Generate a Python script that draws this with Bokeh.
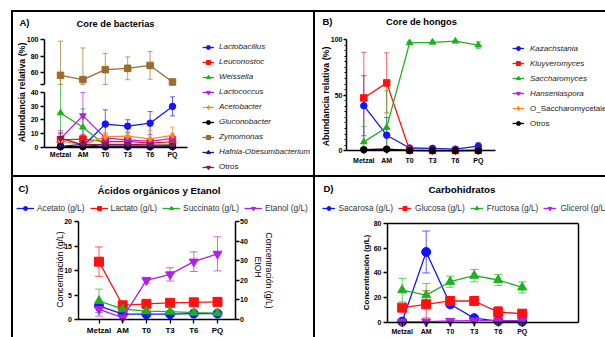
import numpy as np
from bokeh.plotting import figure
from bokeh.models import (ColumnDataSource, Range1d, LinearAxis, FixedTicker, Label, Legend,
                          LegendItem, Whisker, TeeHead, CustomJSTransform, Spacer)
from bokeh.layouts import row, column
from bokeh.transform import transform
from bokeh.embed import file_html
from bokeh.resources import INLINE

# ---------------- data ----------------
categories = ["Metzal", "AM", "T0", "T3", "T6", "PQ"]

# A) Core de bacterias (abundancia relativa %)
lactobacillus = [0.3, 0.5, 16.8, 15.3, 17.5, 29.8]
lactobacillus_sd = [0.5, 0.5, 10.5, 4.7, 8.5, 7.0]
leuconostoc = [5.2, 5.8, 3.9, 4.2, 2.9, 3.9]
leuconostoc_sd = [4.5, 3.5, 2.0, 2.0, 1.5, 2.0]
weissella = [25.0, 14.5, 1.2, 1.2, 0.8, 2.0]
weissella_sd = [33.0, 13.5, 1.0, 1.0, 0.8, 1.5]
lactococcus = [6.0, 23.0, 6.5, 5.3, 4.2, 6.3]
lactococcus_sd = [6.0, 17.0, 3.0, 2.0, 2.0, 2.5]
acetobacter = [4.5, 1.5, 7.6, 8.0, 6.0, 8.6]
acetobacter_sd = [5.0, 1.0, 3.0, 3.0, 6.0, 6.0]
gluconobacter = [0.2, 0.3, 0.2, 0.2, 0.2, 0.3]
gluconobacter_sd = [0.3, 0.3, 0.3, 0.3, 0.3, 0.3]
zymomonas = [56.3, 51.0, 63.3, 64.9, 68.5, 48.1]
zymomonas_sd = [42.0, 39.0, 20.0, 14.0, 17.0, 2.0]
hafnia = [0.5, 2.0, 0.3, 0.3, 0.3, 0.3]
hafnia_sd = [0.5, 1.5, 0.3, 0.3, 0.3, 0.3]
otros_bact = [6.5, 1.5, 2.0, 2.0, 1.5, 1.0]
otros_bact_sd = [4.0, 1.0, 1.0, 1.0, 1.0, 0.5]

# B) Core de hongos (abundancia relativa %)
kazachstania = [40.5, 14.0, 2.5, 2.2, 1.5, 4.2]
kazachstania_sd = [27.0, 16.0, 1.0, 1.0, 1.0, 3.0]
kluyveromyces = [47.5, 61.0, 0.5, 0.2, 0.2, 0.3]
kluyveromyces_sd = [41.0, 27.0, 0.5, 0.2, 0.2, 0.3]
saccharomyces = [8.0, 21.0, 97.0, 97.5, 98.5, 95.0]
saccharomyces_sd = [14.0, 33.0, 1.0, 1.0, 0.5, 3.0]
hanseniaspora = [1.0, 1.5, 0.2, 0.1, 0.1, 0.1]
hanseniaspora_sd = [1.0, 1.0, 0.2, 0.1, 0.1, 0.1]
o_saccharomycetales = [0.5, 1.0, 0.1, 0.1, 0.1, 0.1]
o_saccharomycetales_sd = [0.5, 0.8, 0.1, 0.1, 0.1, 0.1]
otros_hongos = [1.0, 1.5, 0.3, 0.2, 0.2, 0.3]
otros_hongos_sd = [1.0, 1.0, 0.2, 0.2, 0.2, 0.2]

# C) Acidos organicos y etanol (g/L)
acetato = [2.8, 1.1, 1.1, 1.1, 1.2, 1.2]
acetato_sd = [0.5, 0.3, 0.2, 0.2, 0.2, 0.2]
lactato = [11.8, 2.9, 3.2, 3.4, 3.5, 3.6]
lactato_sd = [3.0, 0.5, 0.4, 0.4, 0.3, 0.4]
succinato = [3.8, 2.1, 1.7, 1.6, 1.4, 1.3]
succinato_sd = [2.4, 0.3, 0.2, 0.2, 0.2, 0.2]
etanol = [5.2, 1.0, 20.0, 23.0, 29.5, 33.5]
etanol_sd = [3.5, 1.0, 1.5, 3.4, 5.0, 8.7]

# D) Carbohidratos (g/L)
sacarosa = [0.5, 56.9, 14.5, 3.3, 0.9, 0.5]
sacarosa_sd = [0.3, 17.0, 2.0, 1.0, 0.5, 0.3]
glucosa = [11.8, 14.5, 17.2, 17.2, 8.2, 6.9]
glucosa_sd = [1.5, 11.0, 3.0, 3.5, 4.5, 2.0]
fructosa = [26.0, 21.9, 32.8, 37.7, 34.2, 28.2]
fructosa_sd = [9.5, 9.5, 4.5, 5.0, 4.5, 4.5]
glicerol = [0.3, 0.4, 1.0, 1.3, 1.3, 1.3]
glicerol_sd = [0.2, 0.3, 0.5, 0.5, 0.5, 0.5]

# broken y axis of panel A: data value -> display position
break_data = [0, 40, 45, 100]
break_disp = [0, 54.5, 62.5, 107.2]

# ---------------- styles ----------------
FONT = "Liberation Sans"
BLUE, RED, GREEN, PURPLE = "#1414ff", "#ff1010", "#1fb01f", "#b41eea"
ORANGE, BLACK, BROWN, NAVY, MAROON = "#ff8c1a", "#000000", "#9c6b2e", "#1c1c7c", "#7a1f5c"
idx = list(range(len(categories)))
cat_labels = {i: c for i, c in enumerate(categories)}


class Panel:
    """Figure whose frame fills the whole canvas; geometry given in page pixels."""

    def __init__(self, ox, oy, w, h, x0, dx, y0, ky):
        self.ox, self.oy, self.w, self.h = ox, oy, w, h
        xr = ((ox - x0) / dx, (ox + w - x0) / dx)
        yr = ((y0 - (oy + h)) / ky, (y0 - oy) / ky)
        self.x0, self.dx, self.y0, self.ky = x0, dx, y0, ky
        p = figure(width=w, height=h, x_range=Range1d(*xr), y_range=Range1d(*yr),
                   x_axis_type=None, y_axis_type=None, toolbar_location=None,
                   output_backend="svg", min_border=0)
        p.min_border_left = p.min_border_right = p.min_border_top = p.min_border_bottom = 0
        p.outline_line_color = None
        p.background_fill_color = "white"
        p.border_fill_color = "white"
        self.p = p

    def xd(self, sx):
        return (sx - self.x0) / self.dx

    def text(self, sx, sy, text, size, style="normal", angle=0.0, color="black"):
        self.p.add_layout(Label(x=sx - self.ox, y=self.oy + self.h - sy, x_units="screen",
                                y_units="screen", text=text, text_font=FONT,
                                text_font_size=f"{size}px", text_font_style=style,
                                text_align="center", text_baseline="middle", angle=angle,
                                text_color=color))

    def legend(self, items, glyph_left, bottom, fs, gw, standoff, style="normal",
               orientation="vertical", spacing=5, color="#1a1a1a"):
        self.p.add_layout(Legend(
            items=items, location=(glyph_left - self.ox, self.oy + self.h - bottom),
            orientation=orientation, glyph_width=gw, glyph_height=10, label_height=10,
            label_width=10, spacing=spacing, label_standoff=standoff, padding=0, margin=0,
            border_line_color=None, background_fill_alpha=0, label_text_font=FONT,
            label_text_font_size=f"{fs}px", label_text_font_style=style,
            label_text_color=color))


def make_axis(ticks, fs, tick_out, standoff, overrides=None, bounds=None, fixed=None,
              minor=None, y_range_name=None, labels=True):
    kw = {}
    if y_range_name:
        kw["y_range_name"] = y_range_name
    ax = LinearAxis(ticker=FixedTicker(ticks=ticks, minor_ticks=minor or []), **kw)
    ax.axis_line_color = "black"
    ax.axis_line_width = 1.5
    ax.major_tick_line_color = "black"
    ax.major_tick_line_width = 1.3
    ax.major_tick_in = 0
    ax.major_tick_out = tick_out
    ax.minor_tick_line_color = "black"
    ax.minor_tick_line_width = 1.0
    ax.minor_tick_in = 0
    ax.minor_tick_out = 2
    ax.major_label_text_font = FONT
    ax.major_label_text_font_size = f"{fs}px"
    ax.major_label_text_font_style = "bold"
    ax.major_label_text_color = "black" if labels else None
    ax.major_label_standoff = standoff
    if overrides:
        ax.major_label_overrides = overrides
    if bounds is not None:
        ax.bounds = bounds
    if fixed is not None:
        ax.fixed_location = fixed
    return ax


def add_series(p, mean, sd, color, marker, size, lw, cap, ytr=None, floor=0.0,
               y_range_name="default"):
    m = np.array(mean, dtype=float)
    s = np.array(sd, dtype=float)
    src = ColumnDataSource(dict(x=idx, y=m, lo=np.maximum(m - s, floor), hi=m + s))
    yf = transform("y", ytr) if ytr is not None else "y"
    lof = transform("lo", ytr) if ytr is not None else "lo"
    hif = transform("hi", ytr) if ytr is not None else "hi"
    w = Whisker(source=src, base="x", lower=lof, upper=hif, line_color=color,
                line_width=0.9, line_alpha=0.75, y_range_name=y_range_name,
                lower_head=TeeHead(size=cap, line_color=color, line_width=0.9, line_alpha=0.75),
                upper_head=TeeHead(size=cap, line_color=color, line_width=0.9, line_alpha=0.75))
    p.add_layout(w)
    ln = p.line(x="x", y=yf, source=src, line_color=color, line_width=lw,
                y_range_name=y_range_name)
    sc = p.scatter(x="x", y=yf, source=src, marker=marker, size=size, fill_color=color,
                   line_color=color, y_range_name=y_range_name)
    return [ln, sc]


# ---------------- panel A ----------------
A = Panel(13, 12, 300, 163, 60, 22.4, 146.5, 1.0)
pA = A.p
xA = (A.xd(44), A.xd(187))
brk = CustomJSTransform(
    args=dict(bx=break_data, by=break_disp),
    func="""
let k = 0;
while (k < bx.length - 2 && x > bx[k + 1]) { k++; }
return by[k] + (x - bx[k]) * (by[k + 1] - by[k]) / (bx[k + 1] - bx[k]);
""",
    v_func="""
const out = new Array(xs.length);
for (let i = 0; i < xs.length; i++) {
  const v = xs[i];
  let k = 0;
  while (k < bx.length - 2 && v > bx[k + 1]) { k++; }
  out[i] = by[k] + (v - bx[k]) * (by[k + 1] - by[k]) / (bx[k + 1] - bx[k]);
}
return out;
""")

bact = [
    ("Lactobacillus", lactobacillus, lactobacillus_sd, BLUE, "circle", 0),
    ("Leuconostoc", leuconostoc, leuconostoc_sd, RED, "square", 0),
    ("Weissella", weissella, weissella_sd, GREEN, "triangle", 0),
    ("Lactococcus", lactococcus, lactococcus_sd, PURPLE, "inverted_triangle", 0),
    ("Acetobacter", acetobacter, acetobacter_sd, ORANGE, "diamond", 0),
    ("Gluconobacter", gluconobacter, gluconobacter_sd, BLACK, "circle", 0),
    ("Zymomonas", zymomonas, zymomonas_sd, BROWN, "square", break_data[2]),
    ("Hafnia-Obesumbacterium", hafnia, hafnia_sd, NAVY, "triangle", 0),
    ("Otros", otros_bact, otros_bact_sd, MAROON, "inverted_triangle", 0),
]
itemsA = []
for name, mean, sd, col, mk, floor in bact:
    rs = add_series(pA, mean, sd, col, mk, 6.5, 1.3, 5, ytr=brk, floor=floor)
    itemsA.append(LegendItem(label=name, renderers=rs))

pA.add_layout(make_axis(idx, 7, 3, 1, overrides=cat_labels, bounds=xA, fixed=0), "below")
low_t = [0, 10, 20, 30, 40]
up_t = [45, 60, 80, 100]
low_d = [float(v) for v in np.interp(low_t, break_data, break_disp)]
up_d = [float(v) for v in np.interp(up_t, break_data, break_disp)]
pA.add_layout(make_axis(low_d, 7, 4, 2, overrides={d: str(t) for d, t in zip(low_d, low_t)},
                        bounds=(low_d[0], low_d[-1]), fixed=xA[0]), "left")
up_lab = {d: (str(t) if t != break_data[2] else "") for d, t in zip(up_d, up_t)}
pA.add_layout(make_axis(up_d, 7, 4, 2, overrides=up_lab, bounds=(up_d[0], up_d[-1]),
                        fixed=xA[0]), "left")

A.legend(itemsA[:8], 202, 156.85, 8, 12, 5, style="italic")
A.legend(itemsA[8:], 202, 171.85, 8, 12, 5)
A.text(24, 22, "A)", 9.5, "bold")
A.text(115, 23, "Core de bacterias", 9.3, "bold")
A.text(21, 92, "Abundancia relativa (%)", 8.8, "bold", angle=np.pi / 2)

# ---------------- panel B ----------------
B = Panel(315, 12, 290, 163, 363.3, 22.9, 150.3, 1.113)
pB = B.p
xB = (B.xd(346), B.xd(495))
hongos = [
    ("Kazachstania", kazachstania, kazachstania_sd, BLUE, "circle"),
    ("Kluyveromyces", kluyveromyces, kluyveromyces_sd, RED, "square"),
    ("Saccharomyces", saccharomyces, saccharomyces_sd, GREEN, "triangle"),
    ("Hanseniaspora", hanseniaspora, hanseniaspora_sd, PURPLE, "inverted_triangle"),
    ("O_Saccharomycetales", o_saccharomycetales, o_saccharomycetales_sd, ORANGE, "diamond"),
    ("Otros", otros_hongos, otros_hongos_sd, BLACK, "circle"),
]
itemsB = []
for name, mean, sd, col, mk in hongos:
    rs = add_series(pB, mean, sd, col, mk, 6.5, 1.3, 5)
    itemsB.append(LegendItem(label=name, renderers=rs))
pB.add_layout(make_axis(idx, 7, 3, 3, overrides=cat_labels, bounds=xB, fixed=0), "below")
pB.add_layout(make_axis([0, 50, 100], 7, 3, 1, bounds=(0, 100), fixed=xB[0],
                        minor=list(range(0, 101, 5))), "left")
B.legend(itemsB[:4], 512, 98.3, 8, 12, 6, style="italic")
B.legend(itemsB[4:], 512, 128.3, 8, 12, 6)
B.text(327, 21, "B)", 9.5, "bold")
B.text(421, 21.5, "Core de hongos", 9.3, "bold")
B.text(325, 96, "Abundancia relativa (%)", 8.8, "bold", angle=np.pi / 2)

# ---------------- panel C ----------------
C = Panel(13, 177, 300, 160, 98.5, 23.7, 319.0, 4.9)
pC = C.p
xC = (C.xd(77.5), C.xd(234.5))
k_etoh = 4.9 * 20 / 50
pC.extra_y_ranges = {"etoh": Range1d((319.0 - 337) / k_etoh, (319.0 - 177) / k_etoh)}
acids = [
    ("Acetato (g/L)", acetato, acetato_sd, BLUE, "circle", "default"),
    ("Lactato (g/L)", lactato, lactato_sd, RED, "square", "default"),
    ("Succinato (g/L)", succinato, succinato_sd, GREEN, "triangle", "default"),
    ("Etanol (g/L)", etanol, etanol_sd, PURPLE, "inverted_triangle", "etoh"),
]
itemsC = []
for name, mean, sd, col, mk, rn in acids:
    rs = add_series(pC, mean, sd, col, mk, 9, 1.3, 8, y_range_name=rn)
    itemsC.append(LegendItem(label=name, renderers=rs))
pC.add_layout(make_axis(idx, 8, 4, 2, overrides=cat_labels, bounds=xC, fixed=0), "below")
pC.add_layout(make_axis([0, 5, 10, 15, 20], 7, 4, 2, bounds=(0, 20), fixed=xC[0]), "left")
pC.add_layout(make_axis([0, 10, 20, 30, 40, 50], 7, 4, 1, bounds=(0, 50), fixed=xC[1],
                        y_range_name="etoh"), "right")
C.legend(itemsC, 16, 213.3, 8.3, 18, 3, orientation="horizontal", spacing=5,
         color="#333333")
C.text(23, 187.5, "C)", 9.5, "bold")
C.text(158.5, 189.5, "Ácidos orgánicos y Etanol", 9.8, "bold")
C.text(59.5, 269, "Concentración (g/L)", 8.7, angle=np.pi / 2)
C.text(268.5, 270, "Concentración (g/L)", 8.7, angle=-np.pi / 2)
C.text(257.5, 266.7, "EtOH", 8.7, angle=-np.pi / 2)

# ---------------- panel D ----------------
D = Panel(315, 177, 290, 160, 401.7, 24.0, 321.7, 1.234)
pD = D.p
xD = (D.xd(387), D.xd(578))
sugars = [
    ("Sacarosa (g/L)", sacarosa, sacarosa_sd, BLUE, "circle"),
    ("Glucosa (g/L)", glucosa, glucosa_sd, RED, "square"),
    ("Fructosa (g/L)", fructosa, fructosa_sd, GREEN, "triangle"),
    ("Glicerol (g/L)", glicerol, glicerol_sd, PURPLE, "inverted_triangle"),
]
itemsD = []
for name, mean, sd, col, mk in sugars:
    rs = add_series(pD, mean, sd, col, mk, 9, 1.3, 8)
    itemsD.append(LegendItem(label=name, renderers=rs))
pD.add_layout(make_axis(idx, 7, 4, 2, overrides=cat_labels, bounds=xD, fixed=0), "below")
pD.add_layout(make_axis([0, 20, 40, 60, 80], 7, 4, 2, bounds=(0, 80), fixed=xD[0]), "left")
pD.add_layout(make_axis([], 7, 0, 0, bounds=xD, fixed=80, labels=False), "above")
pD.add_layout(make_axis([], 7, 0, 0, bounds=(0, 80), fixed=xD[1], labels=False), "right")
D.legend(itemsD, 321.5, 213.3, 8.3, 13, 4, orientation="horizontal", spacing=5,
         color="#333333")
D.text(328, 187.5, "D)", 9.5, "bold")
D.text(461.5, 189, "Carbohidratos", 9.8, "bold")
D.text(366, 272, "Concentración (g/L)", 8, "bold", angle=np.pi / 2)

# ---------------- layout with panel borders ----------------
def bar(w, h):
    return Spacer(width=w, height=h, styles={"background-color": "black"})


layout = column(
    Spacer(width=605, height=10),
    row(Spacer(width=11, height=2), bar(594, 2)),
    row(Spacer(width=11, height=325), bar(2, 325),
        column(row(pA, bar(2, 163), pB),
               bar(592, 2),
               row(pC, bar(2, 160), pD))),
)

open("out.html", "w").write(file_html(layout, INLINE))
